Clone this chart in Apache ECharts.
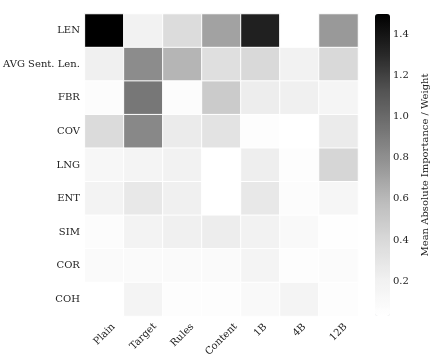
<!DOCTYPE html>
<html>
<head>
<meta charset="utf-8">
<script src="https://cdn.jsdelivr.net/npm/echarts@6/dist/echarts.min.js"></script>
<style>
  html, body { margin: 0; padding: 0; background: #fff; }
  #chart { width: 432px; height: 360px; }
</style>
</head>
<body>
<div id="chart"></div>
<script>
// columns / rows of the heatmap
const models = ['Plain', 'Target', 'Rules', 'Content', '1B', '4B', '12B'];
const features = ['LEN', 'AVG Sent. Len.', 'FBR', 'COV', 'LNG', 'ENT', 'SIM', 'COR', 'COH'];

// values per feature row, in model order
const rowLEN = [1.50, 0.19, 0.37, 0.71, 1.34, 0.03, 0.75];
const rowAVG = [0.21, 0.82, 0.62, 0.35, 0.40, 0.19, 0.40];
const rowFBR = [0.07, 0.93, 0.07, 0.49, 0.24, 0.21, 0.15];
const rowCOV = [0.38, 0.84, 0.25, 0.32, 0.05, 0.03, 0.25];
const rowLNG = [0.13, 0.16, 0.19, 0.03, 0.23, 0.06, 0.42];
const rowENT = [0.18, 0.28, 0.21, 0.03, 0.28, 0.07, 0.14];
const rowSIM = [0.07, 0.18, 0.21, 0.24, 0.19, 0.10, 0.04];
const rowCOR = [0.09, 0.09, 0.09, 0.09, 0.17, 0.05, 0.08];
const rowCOH = [0.03, 0.17, 0.05, 0.06, 0.10, 0.17, 0.05];

const colorbarTicks = [0.2, 0.4, 0.6, 0.8, 1.0, 1.2, 1.4];
const vMin = 0.03, vMax = 1.5;

// matplotlib "Greys"
const greys = ['#ffffff', '#f0f0f0', '#d9d9d9', '#bdbdbd', '#969696', '#737373', '#525252', '#252525', '#000000'];

const rows = [rowLEN, rowAVG, rowFBR, rowCOV, rowLNG, rowENT, rowSIM, rowCOR, rowCOH];
const cells = [];
rows.forEach((r, yi) => {
    r.forEach((v, xi) => cells.push([xi, yi, v]));
});

const font = 'DejaVu Serif';
const fs = 10;

// rotated x labels centred under their tick (like ha='center' in mpl):
// pad each label so the rotated box hangs straight down from the tick
const ctx = document.createElement('canvas').getContext('2d');
ctx.font = fs + 'px "' + font + '"';
const xRich = {};
models.forEach((m, i) => {
    const w = ctx.measureText(m).width;
    const p = Math.round((w + fs * 1.2) / 2);
    xRich['l' + i] = { padding: [p, p, 0, 0], fontSize: fs, fontFamily: font, color: '#222' };
});

const chart = echarts.init(document.getElementById('chart'));

chart.setOption({
    animation: false,
    textStyle: { fontFamily: font },
    grid: [
        { left: 82, top: 14, width: 276, height: 302 },
        { left: 375, top: 14, width: 15, height: 302 }
    ],
    xAxis: [
        {
            type: 'category', data: models, gridIndex: 0,
            axisLine: { show: false },
            axisTick: { alignWithLabel: true, length: 3, lineStyle: { color: '#555' } },
            axisLabel: {
                rotate: 45, align: 'center', verticalAlign: 'middle', margin: 5,
                fontSize: fs, color: '#222', fontFamily: font,
                formatter: (v, i) => '{l' + i + '|' + v + '}',
                rich: xRich
            },
            splitLine: { show: false }
        },
        { type: 'value', gridIndex: 1, show: false }
    ],
    yAxis: [
        {
            type: 'category', data: features, inverse: true, gridIndex: 0,
            axisLine: { show: false },
            axisTick: { alignWithLabel: true, length: 3, lineStyle: { color: '#555' } },
            axisLabel: { fontSize: fs, color: '#222', margin: 5, fontFamily: font },
            splitLine: { show: false }
        },
        {
            type: 'value', gridIndex: 1, position: 'right', min: vMin, max: vMax,
            axisLine: { show: false },
            axisTick: { show: true, length: 3, customValues: colorbarTicks, lineStyle: { color: '#555' } },
            axisLabel: {
                fontSize: fs, color: '#222', margin: 3, fontFamily: font,
                customValues: colorbarTicks,
                formatter: v => v.toFixed(1)
            },
            splitLine: { show: false },
            name: 'Mean Absolute Importance / Weight',
            nameLocation: 'middle', nameRotate: 90, nameGap: 30,
            nameTextStyle: { fontSize: fs, color: '#222', fontFamily: font }
        }
    ],
    visualMap: {
        type: 'continuous', min: vMin, max: vMax, seriesIndex: 0,
        calculable: false, orient: 'vertical',
        left: 375, top: 14, itemWidth: 15, itemHeight: 302, padding: 0,
        text: null, showLabel: false,
        inRange: { color: greys }
    },
    series: [{
        type: 'heatmap', xAxisIndex: 0, yAxisIndex: 0,
        data: cells,
        itemStyle: { borderColor: '#ffffff', borderWidth: 1 },
        emphasis: { disabled: true }
    }]
});
</script>
</body>
</html>
